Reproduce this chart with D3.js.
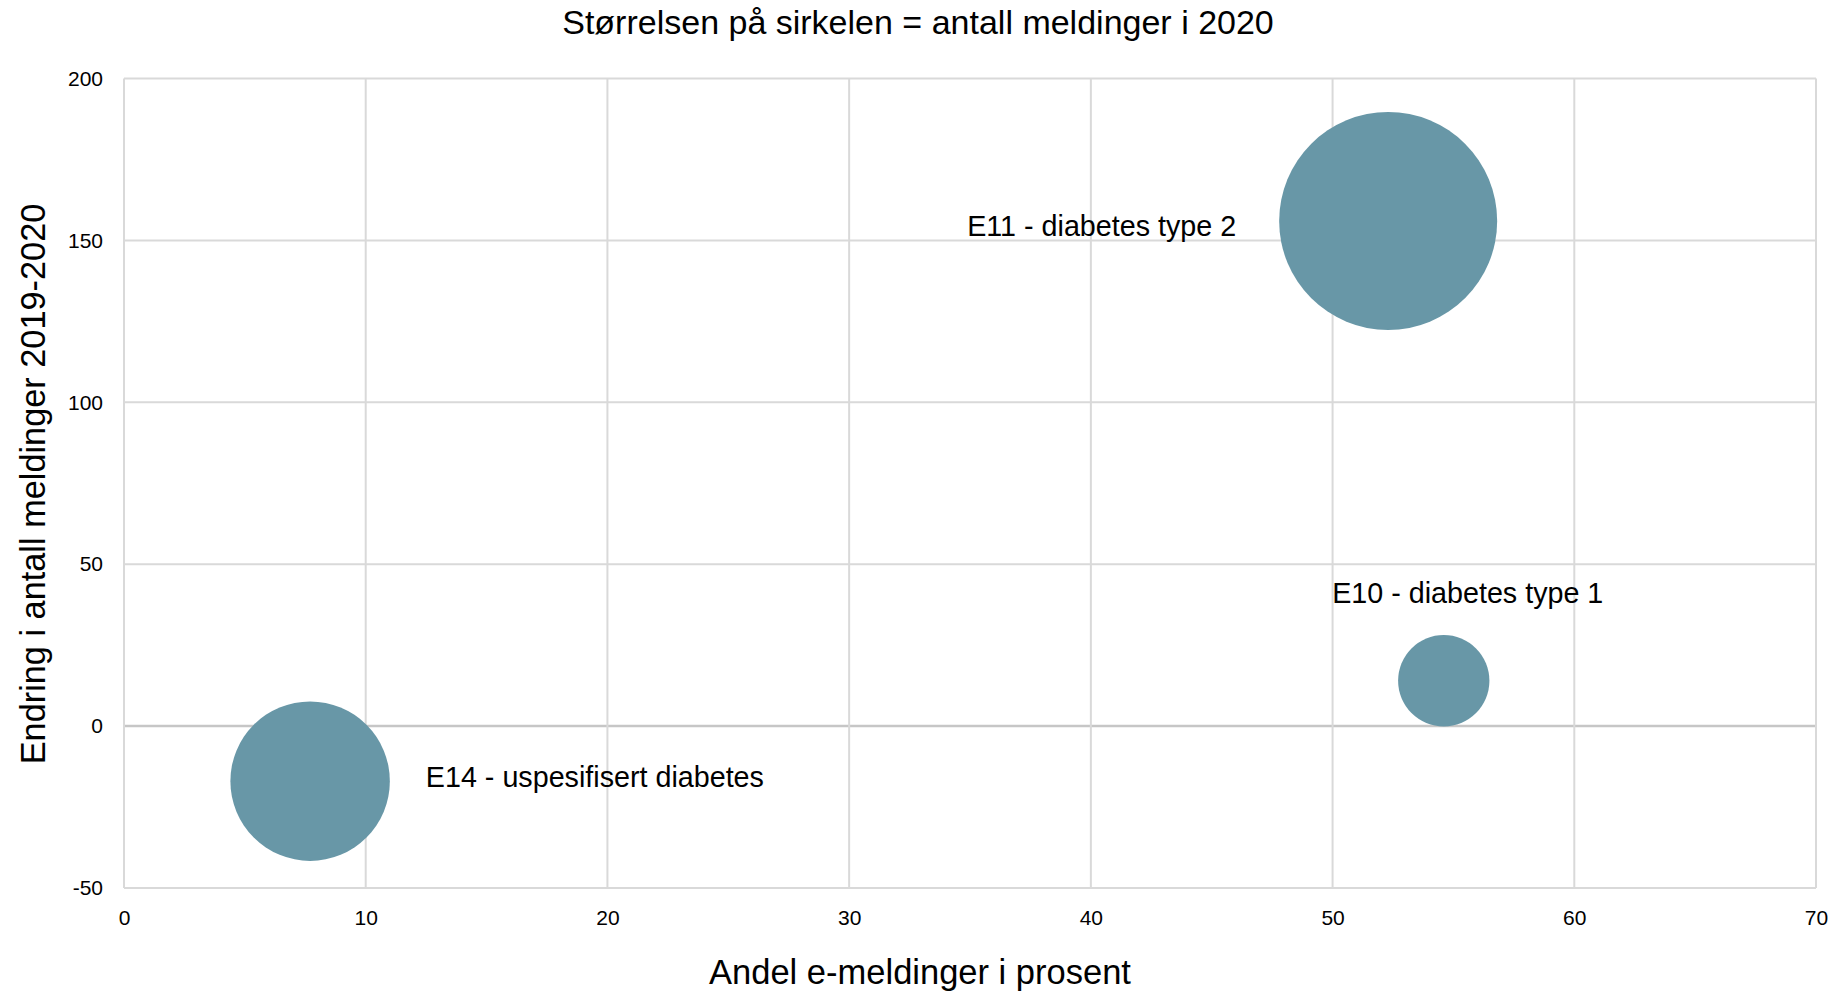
<!DOCTYPE html>
<html>
<head>
<meta charset="utf-8">
<script src="https://cdnjs.cloudflare.com/ajax/libs/d3/7.8.5/d3.min.js"></script>
<style>
  body { margin: 0; background: #fff; }
  text { font-family: "Liberation Sans", "DejaVu Sans", sans-serif; fill: #000; }
</style>
</head>
<body>
<div id="chart"></div>
<script>
// data
var codes = ["E11 - diabetes type 2", "E10 - diabetes type 1", "E14 - uspesifisert diabetes"]
var share = [52.3, 54.6, 7.7]          // andel e-meldinger i prosent
var change = [156, 14, -17]            // endring 2019-2020
var count2020 = [5700, 1000, 3050]     // antall meldinger i 2020 (bubble size)
var xTicks = [0, 10, 20, 30, 40, 50, 60, 70]
var yTicks = [-50, 0, 50, 100, 150, 200]

var width = 1837, height = 997
var margin = { top: 78.5, right: 21, bottom: 109, left: 124 }

var svg = d3.select("#chart")
    .append("svg")
    .attr("width", width)
    .attr("height", height)

var xScale = d3.scaleLinear()
    .domain([0, 70])
    .range([margin.left, width - margin.right])

var yScale = d3.scaleLinear()
    .domain([-50, 200])
    .range([height - margin.bottom, margin.top])

var rScale = d3.scaleSqrt()
    .domain([0, d3.max(count2020)])
    .range([0, 109])

// gridlines
svg.append("g")
    .selectAll("line")
    .data(yTicks)
    .enter()
    .append("line")
    .attr("x1", xScale(0))
    .attr("x2", xScale(70))
    .attr("y1", function (d) { return yScale(d) })
    .attr("y2", function (d) { return yScale(d) })
    .attr("stroke", function (d) { return d == 0 ? "#c6c6c6" : "#d9d9d9" })
    .attr("stroke-width", function (d) { return d == 0 ? 2.5 : 2 })

svg.append("g")
    .selectAll("line")
    .data(xTicks)
    .enter()
    .append("line")
    .attr("x1", function (d) { return xScale(d) })
    .attr("x2", function (d) { return xScale(d) })
    .attr("y1", yScale(200))
    .attr("y2", yScale(-50))
    .attr("stroke", "#d9d9d9")
    .attr("stroke-width", 2)

// axes (labels only, lines come from the grid)
var plain = function (d) { return String(d) }  // keep the hyphen in "-50"

var xAxis = svg.append("g")
    .attr("transform", "translate(0," + yScale(-50) + ")")
    .call(d3.axisBottom(xScale).tickValues(xTicks).tickFormat(plain).tickSize(0).tickPadding(22))
xAxis.select(".domain").remove()
xAxis.selectAll("text").style("font-size", "21px").attr("font-family", null)

var yAxis = svg.append("g")
    .attr("transform", "translate(" + xScale(0) + ",0)")
    .call(d3.axisLeft(yScale).tickValues(yTicks).tickFormat(plain).tickSize(0).tickPadding(21))
yAxis.select(".domain").remove()
yAxis.selectAll("text").style("font-size", "21px").attr("font-family", null)

// bubbles
var color = "#6897a7"
var data = codes.map(function (c, i) {
    return { code: c, x: share[i], y: change[i], n: count2020[i] }
})

svg.append("g")
    .selectAll("circle")
    .data(data)
    .enter()
    .append("circle")
    .attr("cx", function (d) { return xScale(d.x) })
    .attr("cy", function (d) { return yScale(d.y) })
    .attr("r", function (d) { return rScale(d.n) })
    .style("fill", color)

// data labels, placed beside each bubble like in Excel
var place = [
    { anchor: "end", dx: function (d) { return -rScale(d.n) - 43 }, dy: 7 },
    { anchor: "middle", dx: function (d) { return 24 }, dy: -85 },
    { anchor: "start", dx: function (d) { return rScale(d.n) + 36 }, dy: -2 }
]
svg.append("g")
    .selectAll("text")
    .data(data)
    .enter()
    .append("text")
    .attr("x", function (d, i) { return xScale(d.x) + place[i].dx(d) })
    .attr("y", function (d, i) { return yScale(d.y) + place[i].dy })
    .attr("text-anchor", function (d, i) { return place[i].anchor })
    .attr("dominant-baseline", "middle")
    .style("font-size", "28.7px")
    .text(function (d) { return d.code })

// title
svg.append("text")
    .attr("x", 918)
    .attr("y", 25)
    .attr("text-anchor", "middle")
    .attr("dominant-baseline", "middle")
    .style("font-size", "34px")
    .text("Størrelsen på sirkelen = antall meldinger i 2020")

// axis titles
svg.append("text")
    .attr("x", 920)
    .attr("y", 975)
    .attr("text-anchor", "middle")
    .attr("dominant-baseline", "middle")
    .style("font-size", "34.5px")
    .text("Andel e-meldinger i prosent")

svg.append("text")
    .attr("transform", "translate(36," + 484 + ") rotate(-90)")
    .attr("text-anchor", "middle")
    .attr("dominant-baseline", "middle")
    .style("font-size", "34.3px")
    .text("Endring i antall meldinger 2019-2020")
</script>
</body>
</html>
